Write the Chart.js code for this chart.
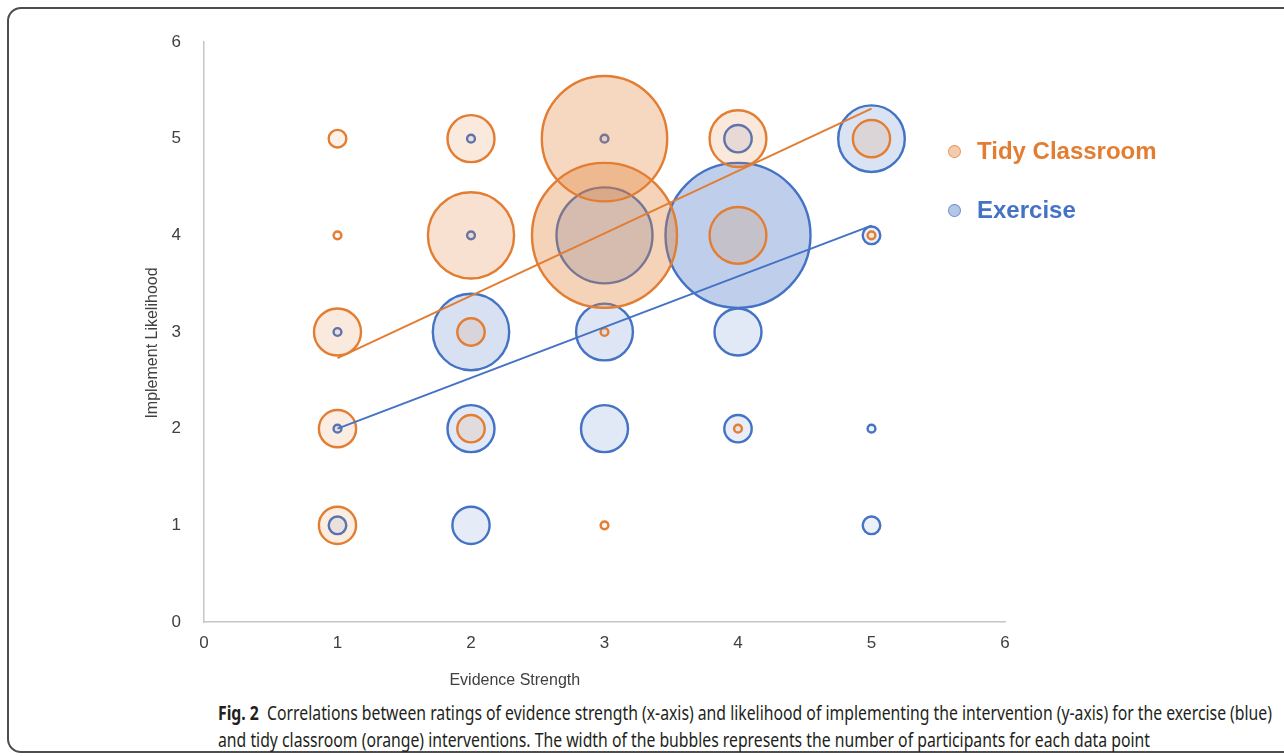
<!DOCTYPE html>
<html lang="en">
<head>
<meta charset="UTF-8">
<title>Evidence strength vs implement likelihood</title>
<style>
    body { margin: 0; background: #fff; width: 1284px; height: 756px; overflow: hidden; position: relative;
           font-family: "Liberation Sans", Arial, sans-serif; }
    #frame { position: absolute; left: 7px; top: 7px; width: 1320px; height: 746px; box-sizing: border-box;
             border: 2px solid #4d4d4d; border-radius: 14px; }
    #chartBox { position: absolute; left: 0; top: 0; width: 1284px; height: 700px; }
    #legend { position: absolute; left: 948px; top: 132px; }
    .item { display: flex; align-items: center; height: 38px; margin-bottom: 21px; font-weight: bold; font-size: 24px; }
    .dot { width: 11px; height: 11px; border-radius: 50%; margin-right: 16px; border: 1.5px solid; }
    #caption { position: absolute; left: 218px; top: 700px; font-family: "Noto Sans", sans-serif; font-size: 19px;
               line-height: 27px; color: #231f20; white-space: nowrap; }
    #caption span { display: inline-block; transform-origin: 0 50%; }
</style>
</head>
<body>
<div id="frame"></div>
<div id="chartBox"><canvas id="myChart" width="1284" height="700"></canvas></div>
<div id="legend"></div>
<div id="caption">
    <span><b>Fig. 2</b>&nbsp; Correlations between ratings of evidence strength (x-axis) and likelihood of implementing the intervention (y-axis) for the exercise (blue)</span><br>
    <span>and tidy classroom (orange) interventions. The width of the bubbles represents the number of participants for each data point</span>
</div>

<script src="https://cdn.jsdelivr.net/npm/chart.js"></script>
<script>
    // evidence strength (x), implement likelihood (y), number of participants (n)
    const tidyX = [1, 1, 1, 1, 1, 2, 2, 2, 2, 3, 3, 3, 3, 4, 4, 4, 5, 5];
    const tidyY = [5, 4, 3, 2, 1, 5, 4, 3, 2, 5, 4, 3, 1, 5, 4, 2, 5, 4];
    const tidyN = [2, 1, 5, 4, 4, 5, 9, 3, 3, 13, 15, 1, 1, 6, 6, 1, 4, 1];

    const exerciseX = [1, 1, 1, 2, 2, 2, 2, 2, 3, 3, 3, 3, 4, 4, 4, 4, 5, 5, 5, 5];
    const exerciseY = [3, 2, 1, 5, 4, 3, 2, 1, 5, 4, 3, 2, 5, 4, 3, 2, 5, 4, 2, 1];
    const exerciseN = [1, 1, 2, 1, 1, 8, 5, 4, 1, 10, 6, 5, 3, 15, 5, 3, 7, 2, 1, 2];

    // linear trend lines, end points
    const trendX = [1, 5];
    const tidyTrendY = [2.73, 5.31];
    const exerciseTrendY = [2.0, 4.1];

    const axisTicks = [0, 1, 2, 3, 4, 5, 6];

    const ORANGE = [226, 125, 50];
    const BLUE = [68, 114, 196];

    function rgba(c, a) {
        return 'rgba(' + c[0] + ',' + c[1] + ',' + c[2] + ',' + a + ')';
    }

    function bubbles(xs, ys, ns) {
        return xs.map((x, i) => ({x: x, y: ys[i], r: 4.9 * ns[i] - 1, n: ns[i]}));
    }

    function line(xs, ys) {
        return xs.map((x, i) => ({x: x, y: ys[i]}));
    }

    // fill gets a bit stronger for the bigger bubbles, like in the original
    function fillFor(c) {
        return ctx => ctx.raw ? rgba(c, 0.07 + 0.018 * ctx.raw.n) : rgba(c, 0.3);
    }

    const axisTitles = {
        id: 'axisTitles',
        afterDraw(chart) {
            const {ctx, chartArea: a} = chart;
            ctx.save();
            ctx.fillStyle = '#404040';
            ctx.font = '16px "Liberation Sans", Arial, sans-serif';
            ctx.textAlign = 'center';
            ctx.textBaseline = 'middle';
            ctx.fillText('Evidence Strength', a.left + a.width * 0.388, a.bottom + 59);
            ctx.translate(153, a.top + a.height * 0.519);
            ctx.rotate(-Math.PI / 2);
            ctx.fillText('Implement Likelihood', 0, 0);
            ctx.restore();
        }
    };

    let tickFont = {family: '"Liberation Sans", Arial, sans-serif', size: 17};

    let chart = new Chart(document.getElementById('myChart'), {
        type: 'bubble',
        data: {
            datasets: [
                {
                    type: 'line',
                    label: 'Tidy trend',
                    data: line(trendX, tidyTrendY),
                    borderColor: rgba(ORANGE, 1),
                    borderWidth: 2,
                    pointRadius: 0,
                    order: 0
                },
                {
                    type: 'line',
                    label: 'Exercise trend',
                    data: line(trendX, exerciseTrendY),
                    borderColor: rgba(BLUE, 1),
                    borderWidth: 2,
                    pointRadius: 0,
                    order: 0
                },
                {
                    label: 'Tidy Classroom',
                    data: bubbles(tidyX, tidyY, tidyN),
                    borderColor: rgba(ORANGE, 1),
                    backgroundColor: fillFor(ORANGE),
                    borderWidth: 2.4,
                    order: 1
                },
                {
                    label: 'Exercise',
                    data: bubbles(exerciseX, exerciseY, exerciseN),
                    borderColor: rgba(BLUE, 1),
                    backgroundColor: fillFor(BLUE),
                    borderWidth: 2.4,
                    order: 2
                }
            ]
        },
        options: {
            responsive: false,
            animation: false,
            events: [],
            layout: {autoPadding: false, padding: {left: 0, top: 42, right: 279, bottom: 0}},
            plugins: {legend: {display: false}, tooltip: {enabled: false}},
            scales: {
                x: {
                    type: 'linear',
                    min: axisTicks[0],
                    max: axisTicks[axisTicks.length - 1],
                    grid: {display: false},
                    border: {display: true, color: '#c6c6c6', width: 1.5},
                    ticks: {stepSize: 1, color: '#404040', font: tickFont, padding: 3},
                    afterFit: scale => { scale.height = 78; }
                },
                y: {
                    type: 'linear',
                    min: axisTicks[0],
                    max: axisTicks[axisTicks.length - 1],
                    grid: {display: false},
                    border: {display: true, color: '#c6c6c6', width: 1.5},
                    ticks: {stepSize: 1, color: '#404040', font: tickFont, padding: 15},
                    afterFit: scale => { scale.width = 204; }
                }
            }
        },
        plugins: [axisTitles]
    });

    // legend built from the two bubble datasets
    let legendElement = document.getElementById('legend');
    [[2, ORANGE], [3, BLUE]].forEach(([i, c]) => {
        let item = document.createElement('div');
        item.className = 'item';
        item.style.color = rgba(c, 1);
        let dot = document.createElement('span');
        dot.className = 'dot';
        dot.style.background = rgba(c, 0.4);
        dot.style.borderColor = rgba(c, 0.7);
        item.appendChild(dot);
        item.appendChild(document.createTextNode(chart.data.datasets[i].label));
        legendElement.appendChild(item);
    });

    // squeeze the caption to the width of the condensed original font
    let lines = document.querySelectorAll('#caption span');
    let k = 1054 / lines[0].getBoundingClientRect().width;
    lines.forEach(s => { s.style.transform = 'scaleX(' + k + ')'; });
</script>
</body>
</html>
